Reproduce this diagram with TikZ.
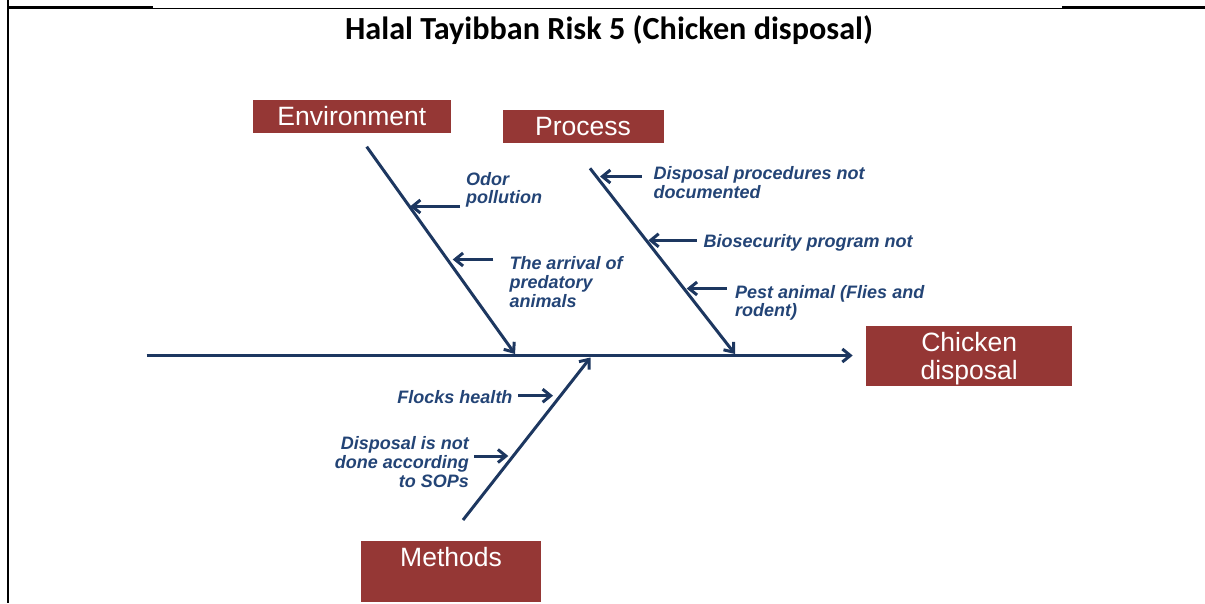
\documentclass[tikz,border=0pt]{standalone}
\usepackage{fontspec}
\usetikzlibrary{arrows.meta}
\newfontfamily\boxfont{Liberation Sans}
\newfontfamily\titlefont{Carlito}
\definecolor{boxred}{RGB}{149,55,53}
\definecolor{navyline}{RGB}{29,55,96}
\definecolor{navytext}{RGB}{35,68,118}
\tikzset{
  bone/.style={draw=navyline, line width=3pt, -{Straight Barb[length=8pt,width=13pt]}},
  framethick/.style={draw=black, line width=2.3pt},
  framethin/.style={draw=black, line width=1.2pt},
  causebox/.style={fill=boxred, inner sep=0pt, text=white, font=\boxfont\fontsize{26.5}{27.6}\selectfont},
  causelabel/.style={inner sep=0pt, text=navytext, font=\boxfont\bfseries\itshape\fontsize{18}{18.6}\selectfont},
}
\begin{document}
\begin{tikzpicture}[x=1pt,y=-1pt]
\useasboundingbox (0,0) rectangle (1205,603);
% frame
\draw[framethick] (8.3,0) -- (8.3,603);
\draw[framethick] (7.2,7.5) -- (153,7.5);
\draw[framethin] (153,8.1) -- (1062,8.1);
\draw[framethick] (1062,7.5) -- (1205,7.5);
% title
\node[anchor=base, inner sep=0pt, font=\titlefont\bfseries\fontsize{32.2}{34}\selectfont] (title) at (609,39.5) {Halal Tayibban Risk 5 (Chicken disposal)};
% boxes
\node[causebox, anchor=north west, minimum width=198.7pt, text height=25.7pt, text depth=7pt] (env) at (252.3,100) {Environment};
\node[causebox, anchor=north west, minimum width=161pt, text height=25.7pt, text depth=7.3pt] (proc) at (502.3,109.3) {Process};
\node[causebox, align=center, minimum width=206.3pt, minimum height=60pt] (effect) at (969.2,356) {\rule{0pt}{25pt}Chicken\\disposal};
\node[causebox, anchor=north west, minimum width=179.7pt, text height=26pt, text depth=35.3pt] (meth) at (361,540.7) {Methods};
% spine and bones
\coordinate (spineS) at (146.7,355.5);
\coordinate (spineE) at (852.7,355.5);
\draw[bone] (spineS) -- (spineE);
\coordinate (envS) at (366.7,146.7);
\coordinate (envE) at (515,354);
\draw[bone] (envS) -- (envE);
\coordinate (procS) at (590,168.3);
\coordinate (procE) at (735,354);
\draw[bone] (procS) -- (procE);
\coordinate (methS) at (463,520);
\coordinate (methE) at (590.5,357.5);
\draw[bone] (methS) -- (methE);
% labels
\node[causelabel, anchor=north west, align=left] (odor) at (466,172) {Odor\\pollution};
\node[causelabel, anchor=north west, align=left] (arrival) at (509.3,256.7) {The arrival of\\predatory\\animals};
\node[causelabel, anchor=north west, align=left] (docs) at (653.3,166.7) {Disposal procedures not\\documented};
\node[causelabel, anchor=north west, align=left] (bio) at (703.3,234.3) {Biosecurity program not};
\node[causelabel, anchor=north west, align=left] (pest) at (735,285) {Pest animal (Flies and\\rodent)};
\node[causelabel, anchor=north east, align=right] (flocks) at (512.7,390) {Flocks health};
\node[causelabel, anchor=north east, align=right] (sop) at (469,436.7) {Disposal is not\\done according\\to SOPs};
% cause arrows
\coordinate (odorS) at (460,206.5);
\coordinate (odorE) at (410,206.5);
\draw[bone] (odorS) -- (odorE);
\coordinate (arrS) at (493.3,259.5);
\coordinate (arrE) at (452.7,259.5);
\draw[bone] (arrS) -- (arrE);
\coordinate (docsS) at (641.7,176.5);
\coordinate (docsE) at (600,176.5);
\draw[bone] (docsS) -- (docsE);
\coordinate (bioS) at (696.7,240.3);
\coordinate (bioE) at (648.3,240.3);
\draw[bone] (bioS) -- (bioE);
\coordinate (pestS) at (726.7,288.5);
\coordinate (pestE) at (686.7,288.5);
\draw[bone] (pestS) -- (pestE);
\coordinate (flocksS) at (518.3,395.7);
\coordinate (flocksE) at (553,395.7);
\draw[bone] (flocksS) -- (flocksE);
\coordinate (sopS) at (474,456);
\coordinate (sopE) at (508.3,456);
\draw[bone] (sopS) -- (sopE);
\end{tikzpicture}
\end{document}
